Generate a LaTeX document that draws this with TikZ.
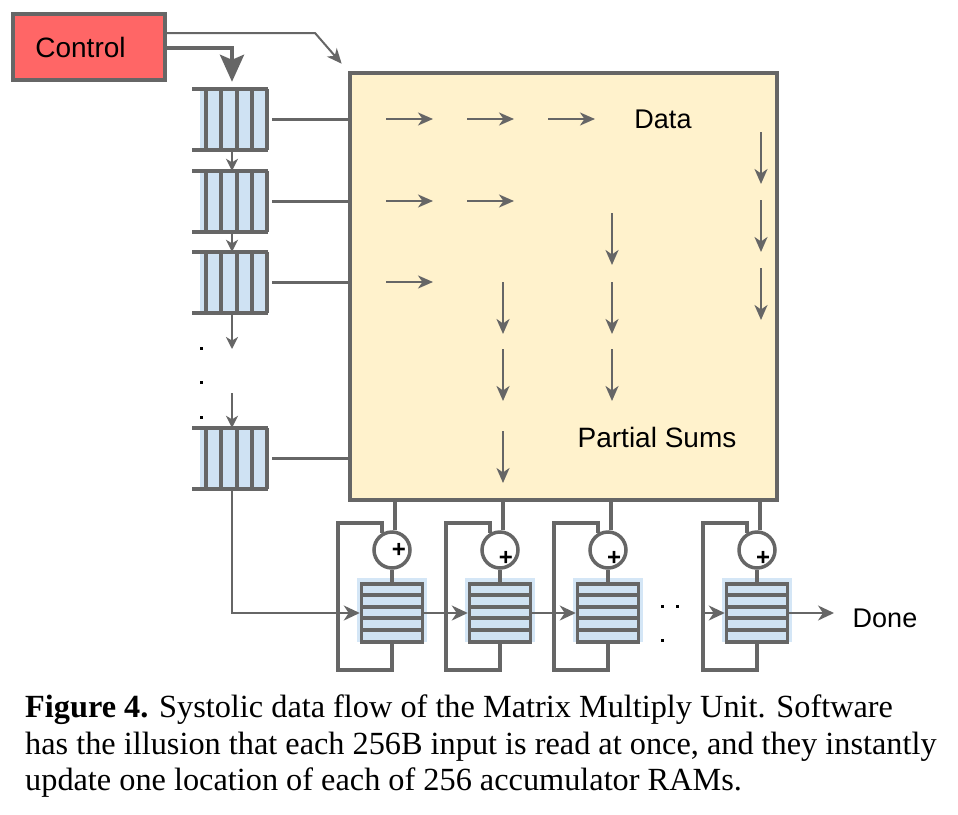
\documentclass[tikz,border=0pt]{standalone}
\usepackage{fontspec}
\setmainfont{Liberation Serif}
\newfontfamily\arialf{Liberation Sans}
\usetikzlibrary{arrows.meta,calc}
\definecolor{lg}{RGB}{102,102,102}
\definecolor{ctrlred}{RGB}{255,102,102}
\definecolor{mfill}{RGB}{255,242,204}
\definecolor{rblue}{RGB}{207,226,243}
\definecolor{rbluebg}{RGB}{212,230,246}
\newcommand{\regstk}[2]{%
  \node[stackfill] (#1) at (234,#2+30.5) {};
  \draw[thk] (192,#2) -- (268,#2) (192,#2+61) -- (268,#2+61);
  \foreach \xx in {206,221,237,252,267} \draw[thk] (\xx,#2) -- (\xx,#2+61);
}
\begin{document}
\begin{tikzpicture}[x=1pt,y=-1pt,
  thk/.style={draw=lg,line width=3.5pt},
  thn/.style={draw=lg,line width=2pt},
  mthn/.style={draw=lg,line width=2.4pt},
  tipS/.style={-{Stealth[length=15pt,width=13pt,inset=4.5pt]}},
  tipM/.style={-{Stealth[length=16pt,width=15pt,inset=5pt]}},
  tipSmall/.style={-{Stealth[length=12pt,width=12pt,inset=3.5pt]}},
  tipBig/.style={-{Stealth[length=27pt,width=24pt,inset=5pt]}},
  lbl/.style={font=\arialf\fontsize{27}{27}\selectfont, inner sep=0pt},
  caplbl/.style={font=\fontsize{32.3}{32.3}\selectfont, inner sep=0pt, anchor=base west},
  stackfill/.style={rectangle, fill=rblue, minimum width=68, minimum height=61, inner sep=0pt},
  accbg/.style={rectangle, fill=rbluebg, minimum width=70, minimum height=64, inner sep=0pt},
  accbox/.style={rectangle, draw=lg, line width=3.5pt, fill=rblue, minimum width=61, minimum height=58, inner sep=0pt},
  adder/.style={circle, draw=lg, line width=3.5pt, fill=white, minimum size=36, inner sep=0pt},
  plussign/.style={font=\arialf\bfseries\fontsize{24}{24}\selectfont, inner sep=0pt},
  dotsq/.style={fill=black}
]
\useasboundingbox[fill=white] (0,0) rectangle (958,814);

% Control
\node[rectangle, draw=lg, line width=3.5pt, fill=ctrlred, minimum width=152, minimum height=66, inner sep=0pt] (C) at (89,47) {};
\node[lbl, font=\arialf\fontsize{28}{28}\selectfont] (Ct) at (80.5,47) {Control};

% Matrix
\node[rectangle, draw=lg, line width=3.5pt, fill=mfill, minimum width=427, minimum height=427, inner sep=0pt] (M) at (563.5,286.5) {};
\node[lbl] (data) at (663,119) {Data};
\node[lbl, font=\arialf\fontsize{28}{28}\selectfont] (psums) at (657,437) {Partial Sums};

% register stacks
\regstk{s1}{89}
\regstk{s2}{171}
\regstk{s3}{252}
\regstk{s4}{428}

% stack to matrix connectors
\foreach \s in {s1,s2,s3,s4}
  \draw[thk, shorten <=4pt] (\s.east) -- (\s.east -| M.west);

% control lines
\draw[thn, tipS, shorten >=10pt] ([yshift=14pt]C.east) -- (315,33) -- (M.north west);
\draw[draw=lg, line width=4pt, tipBig, shorten >=7pt] ([yshift=-1pt]C.east) -| ([xshift=-2pt]s1.north);

% stack arrows
\coordinate (d1) at (232,349);
\coordinate (d2) at (232,393);
\draw[thn, tipSmall] ([xshift=-2pt]s1.south) -- ([xshift=-2pt]s2.north);
\draw[thn, tipSmall] ([xshift=-2pt]s2.south) -- ([xshift=-2pt]s3.north);
\draw[thn, tipSmall] ([xshift=-2pt]s3.south) -- (d1);
\draw[thn, tipSmall] (d2) -- ([xshift=-2pt]s4.north);
\foreach \yy in {348,382,417} \fill[dotsq] (199.5,\yy-1.5) rectangle ++(3,3);

% data arrows
\foreach \xx/\yy in {386/119, 467/119, 548/119, 386/201, 467/201, 386/282}
  \draw[mthn, tipS] (\xx,\yy) -- (\xx+47,\yy);
% partial sum arrows
\foreach \xx/\ya in {761/132, 761/200, 761/268, 612/213, 612/282, 612/349, 503/282, 503/349, 503/431}
  \draw[mthn, tipS] (\xx,\ya) -- (\xx,\ya+52);

% accumulators
\foreach \i/\cx/\px/\py in {1/392/7/0, 2/500/6/8, 3/608/6/8, 4/757/6/8} {
  \node[accbg] (B\i) at (\cx,610) {};
  \node[accbox] (A\i) at (\cx,613) {};
  \foreach \yy in {595,607,618,630}
    \draw[thk] (\cx-30.5,\yy) -- (\cx+30.5,\yy);
  \node[adder] (P\i) at (\cx,550) {};
  \node[plussign] (pl\i) at (\cx+\px,550+\py) {+};
  \draw[thk] ([xshift=3pt]P\i.north |- M.south) -- ([xshift=3pt]P\i.north);
  \draw[thk] (P\i.south) -- (A\i.north);
  \coordinate (La\i) at (\cx-54,670);
  \coordinate (Lb\i) at (\cx-54,523);
  \draw[thk] (A\i.south) |- (La\i) -- (Lb\i) -| (P\i.120);
}

% accumulator inputs
\draw[thn, tipM] ([xshift=-2pt]s4.south) |- (A1.west);
\draw[thn, tipM] (A1.east) -- (A2.west);
\draw[thn, tipM] (A2.east) -- (A3.west);
\draw[thn, tipM] (La4 |- A4.west) -- (A4.west);
\foreach \xx/\yy in {662/606, 677/606, 662/640} \fill[dotsq] (\xx-1.5,\yy-1.5) rectangle ++(3,3);

% done
\coordinate (dn) at (834,613);
\draw[thn, tipM] (A4.east) -- (dn);
\node[lbl] (done) at (885,618) {Done};

% caption
\node[caplbl] (cap1) at (25,717) {\textbf{Figure 4.} Systolic data flow of the Matrix Multiply Unit. Software};
\node[caplbl] (cap2) at (25,754) {has the illusion that each 256B input is read at once, and they instantly};
\node[caplbl] (cap3) at (25,790) {update one location of each of 256 accumulator RAMs.};
\end{tikzpicture}
\end{document}
